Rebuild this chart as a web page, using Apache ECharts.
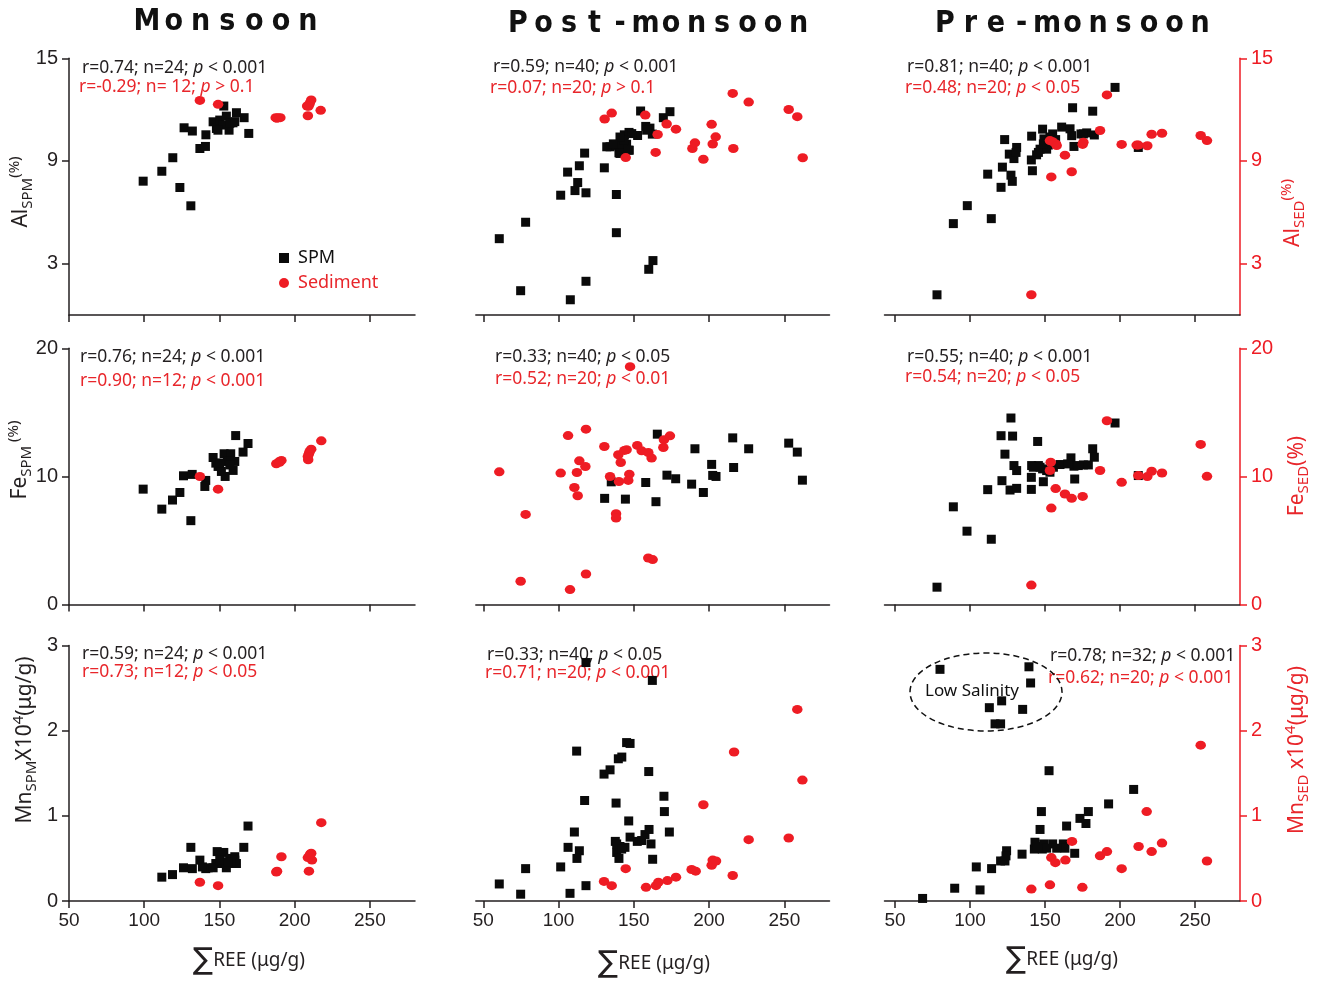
<!DOCTYPE html>
<html><head><meta charset="utf-8">
<script src="https://cdn.jsdelivr.net/npm/echarts@6/dist/echarts.min.js"></script>
<style>html,body{margin:0;padding:0;background:#fff}#c{width:1328px;height:983px}</style>
</head><body><div id="c"></div><script>
// ---------------- DATA ----------------
const seasons = ['Monsoon', 'Post-monsoon', 'Pre-monsoon'];
const xTicks = [50, 100, 150, 200, 250];
const yTicksAl = [3, 9, 15];
const yTicksFe = [0, 10, 20];
const yTicksMn = [0, 1, 2, 3];

// Monsoon
const monAlSPM = [[99.3,7.82],[111.7,8.40],[119.0,9.19],[123.7,7.45],[131.0,6.38],[126.5,10.94],[132.0,10.75],[141.0,10.53],[137.0,9.73],[140.7,9.85],[152.9,12.21],[145.8,11.29],[148.0,10.90],[150.2,11.39],[154.6,11.62],[156.4,10.80],[159.0,11.23],[161.3,11.82],[166.4,11.53],[169.5,10.61],[152.4,11.10],[156.9,11.20],[149.0,10.80],[160.2,11.30]];
const monAlSED = [[137.0,12.54],[149.1,12.31],[187.4,11.53],[189.0,11.53],[190.5,11.53],[208.8,11.64],[208.3,12.21],[211.0,12.56],[217.3,11.96],[210.0,12.36],[188.2,11.50],[209.2,12.20]];
const monFeSPM = [[99.3,9.01],[111.7,7.45],[118.8,8.16],[123.7,8.75],[131.0,6.55],[126.1,10.05],[131.9,10.16],[140.9,9.69],[140.3,9.22],[145.8,11.48],[147.6,11.04],[149.1,10.78],[153.1,11.77],[157.5,11.77],[155.3,11.17],[160.2,11.17],[159.1,10.47],[160.8,13.19],[169.0,12.57],[165.7,11.90],[153.8,10.00],[151.3,10.39],[150.2,11.04],[156.9,10.90]];
const monFeSED = [[137.0,10.00],[149.1,9.01],[187.8,10.99],[191.2,11.25],[189.6,11.14],[209.0,11.30],[209.5,11.77],[211.0,12.13],[217.7,12.78],[210.0,11.95],[208.8,11.56],[190.0,11.10]];
const monMnSPM = [[111.7,0.28],[118.8,0.31],[126.1,0.39],[131.0,0.63],[132.0,0.38],[137.0,0.48],[140.9,0.38],[142.5,0.39],[147.6,0.44],[148.5,0.58],[152.9,0.57],[151.3,0.44],[154.6,0.39],[156.9,0.50],[160.2,0.52],[161.3,0.44],[160.2,0.48],[166.2,0.63],[169.0,0.88],[145.8,0.39],[150.2,0.48],[158.0,0.44],[138.7,0.40],[155.8,0.46]];
const monMnSED = [[137.0,0.22],[149.1,0.18],[188.3,0.35],[191.2,0.52],[209.5,0.35],[209.5,0.52],[211.0,0.56],[211.5,0.48],[217.7,0.92],[187.8,0.34],[208.8,0.51],[210.3,0.55]];

// Post-monsoon
const postAlSPM = [[60.6,4.46],[74.8,1.42],[78.1,5.42],[101.4,7.00],[106.0,8.35],[112.7,7.74],[110.9,7.27],[118.2,7.14],[113.8,8.72],[117.3,9.46],[107.8,0.89],[118.2,1.97],[130.4,8.60],[138.4,7.04],[138.4,4.81],[134.2,9.83],[137.9,9.91],[140.1,9.48],[143.7,10.53],[146.8,10.67],[145.2,9.98],[147.0,9.63],[152.5,10.49],[154.5,11.92],[157.9,11.02],[160.7,10.92],[162.3,10.57],[169.6,11.53],[174.0,11.88],[159.9,2.67],[162.7,3.18],[142.6,9.73],[140.8,9.44],[143.5,10.20],[132.0,9.83],[148.6,10.60],[158.5,10.80],[140.8,10.40],[136.4,10.00],[146.3,9.63]];
const postAlSED = [[130.6,11.45],[135.3,11.80],[157.6,11.68],[165.8,10.55],[164.5,9.50],[144.6,9.20],[171.8,11.16],[178.0,10.86],[188.9,9.73],[190.6,10.06],[196.2,9.10],[201.7,11.14],[204.4,10.41],[202.4,9.99],[216.1,9.73],[215.7,12.95],[226.3,12.44],[252.9,12.01],[258.6,11.59],[262.2,9.19]];
const postFeSPM = [[165.6,13.30],[190.6,12.16],[215.7,13.01],[226.3,12.16],[252.9,12.60],[258.6,11.90],[262.0,9.71],[201.7,10.94],[202.4,10.08],[204.6,10.00],[216.3,10.70],[188.4,9.40],[196.2,8.75],[172.0,10.10],[177.8,9.82],[157.9,9.53],[164.7,8.03],[144.4,8.23],[130.6,8.29],[135.0,9.58]];
const postFeSED = [[60.6,10.36],[78.1,7.04],[74.8,1.82],[107.6,1.17],[118.2,2.39],[106.3,13.19],[118.2,13.69],[101.4,10.26],[112.2,10.31],[113.8,11.22],[117.8,10.78],[110.5,9.14],[112.7,8.49],[130.4,12.34],[134.2,10.00],[138.2,7.09],[138.2,6.75],[139.7,11.69],[141.3,11.09],[143.7,12.03],[145.2,12.08],[140.1,9.61],[147.0,10.18],[146.3,9.69],[152.3,12.42],[155.2,12.00],[159.6,11.87],[161.8,11.43],[170.0,12.86],[174.0,13.17],[169.6,12.26],[159.6,3.64],[162.5,3.51],[147.5,18.57]];
const postMnSPM = [[60.6,0.20],[74.8,0.08],[78.1,0.38],[101.4,0.40],[107.6,0.09],[118.2,0.18],[106.3,0.63],[110.5,0.81],[113.8,0.59],[112.2,0.50],[117.3,1.18],[112.0,1.76],[118.2,2.80],[130.2,1.49],[134.2,1.54],[139.7,1.67],[142.0,1.69],[145.2,1.86],[147.5,1.85],[138.2,1.15],[137.7,0.70],[138.6,0.57],[140.1,0.50],[140.8,0.64],[144.1,0.63],[146.6,0.94],[147.5,0.75],[152.3,0.70],[155.2,0.71],[157.4,0.78],[160.1,0.84],[161.4,0.67],[162.5,0.49],[159.9,1.52],[162.3,2.59],[170.0,1.23],[170.3,1.05],[173.6,0.81],[138.6,0.67],[141.9,0.61]];
const postMnSED = [[130.2,0.23],[135.3,0.18],[144.6,0.38],[158.1,0.16],[164.7,0.18],[166.3,0.22],[172.3,0.24],[178.0,0.28],[188.4,0.37],[191.1,0.35],[196.2,1.13],[201.7,0.42],[202.4,0.48],[204.6,0.47],[215.7,0.30],[216.6,1.75],[226.3,0.72],[252.9,0.74],[258.6,2.25],[262.0,1.42]];

// Pre-monsoon
const preAlSPM = [[78.0,1.18],[88.9,5.34],[98.2,6.39],[114.2,5.63],[111.8,8.23],[120.7,7.46],[121.6,8.64],[127.3,8.17],[128.2,7.81],[123.1,10.25],[126.2,9.40],[129.3,9.14],[131.1,9.79],[130.7,9.50],[140.9,9.06],[141.6,8.43],[141.1,10.45],[144.4,9.36],[146.7,9.69],[148.4,10.86],[149.3,10.29],[152.2,9.93],[155.1,10.58],[157.1,10.25],[161.1,10.98],[166.7,10.88],[168.4,12.11],[169.3,9.85],[174.0,10.58],[177.8,10.64],[181.8,11.91],[182.9,10.52],[196.7,13.30],[212.2,9.79],[153.3,10.40],[151.1,9.69],[145.6,9.50],[167.8,10.48],[175.6,10.58],[148.9,10.00]];
const preAlSED = [[140.9,1.18],[154.2,8.07],[167.8,8.37],[163.3,9.34],[153.3,10.19],[157.3,9.99],[175.1,9.97],[186.7,10.78],[191.3,12.86],[201.1,9.97],[212.2,9.93],[218.2,9.89],[221.1,10.56],[228.0,10.62],[253.8,10.49],[258.0,10.19],[155.1,10.13],[157.8,9.90],[175.6,10.10],[211.1,9.93]];
const preFeSPM = [[78.0,1.36],[88.9,7.63],[98.0,5.73],[114.2,5.10],[111.8,8.97],[121.3,9.67],[120.7,13.18],[127.3,14.56],[128.4,13.15],[123.3,11.74],[129.3,10.85],[131.1,10.46],[126.7,8.94],[131.1,9.07],[140.9,8.99],[140.9,9.93],[141.1,10.85],[145.1,12.73],[145.6,10.85],[148.9,9.59],[148.4,10.59],[153.3,10.33],[155.6,10.72],[160.0,10.93],[167.3,11.45],[169.3,10.80],[169.8,9.80],[175.6,10.90],[178.9,10.90],[181.8,12.16],[182.9,11.50],[196.7,14.17],[212.2,10.07],[151.1,10.46],[165.1,10.98],[146.7,10.72],[172.2,10.85],[142.2,10.72]];
const preFeSED = [[140.9,1.52],[153.8,11.11],[154.2,7.53],[157.1,9.05],[163.3,8.63],[167.8,8.29],[175.1,8.44],[186.7,10.46],[191.3,14.35],[201.1,9.54],[212.2,10.07],[218.2,9.99],[221.1,10.41],[228.0,10.27],[253.8,12.50],[258.0,10.01],[153.3,10.46]];
const preMnSPM = [[68.4,0.03],[89.8,0.15],[106.7,0.13],[104.2,0.40],[114.4,0.38],[120.4,0.47],[123.3,0.47],[124.4,0.59],[124.0,0.53],[134.7,0.55],[142.9,0.61],[143.3,0.69],[146.7,0.84],[147.6,1.05],[149.1,0.67],[148.2,0.61],[152.7,1.53],[155.1,0.67],[162.2,0.67],[164.4,0.88],[169.8,0.56],[173.3,0.97],[177.3,0.91],[178.9,1.05],[192.4,1.14],[209.1,1.31],[163.3,0.62],[157.8,0.62],[144.4,0.64],[151.1,0.62],[80.0,2.72],[139.3,2.75],[140.4,2.56],[121.1,2.35],[112.9,2.27],[135.1,2.25],[116.7,2.08],[120.4,2.08]];
const preMnSED = [[140.9,0.14],[153.3,0.19],[174.9,0.16],[154.2,0.51],[156.9,0.45],[163.6,0.48],[168.0,0.70],[186.7,0.53],[191.3,0.58],[201.1,0.38],[212.4,0.64],[217.8,1.05],[221.1,0.58],[228.0,0.68],[253.8,1.83],[258.0,0.47]];

// statistics text [pre, post] per panel (row-major)
const statsSPM = [
  ['r=0.74; n=24; ',' < 0.001'],['r=0.59; n=40; ',' < 0.001'],['r=0.81; n=40; ',' < 0.001'],
  ['r=0.76; n=24; ',' < 0.001'],['r=0.33; n=40; ',' < 0.05'],['r=0.55; n=40; ',' < 0.001'],
  ['r=0.59; n=24; ',' < 0.001'],['r=0.33; n=40; ',' < 0.05'],['r=0.78; n=32; ',' < 0.001']];
const statsSED = [
  ['r=-0.29; n= 12; ',' > 0.1'],['r=0.07; n=20; ',' > 0.1'],['r=0.48; n=20; ',' < 0.05'],
  ['r=0.90; n=12; ',' < 0.001'],['r=0.52; n=20; ',' < 0.01'],['r=0.54; n=20; ',' < 0.05'],
  ['r=0.73; n=12; ',' < 0.05'],['r=0.71; n=20; ',' < 0.001'],['r=0.62; n=20; ',' < 0.001']];

// ---------------- LAYOUT ----------------
const BLACK = '#231f20', RED = '#ee1c24', REDT = '#e8262b';
const SPM = [[monAlSPM,postAlSPM,preAlSPM],[monFeSPM,postFeSPM,preFeSPM],[monMnSPM,postMnSPM,preMnSPM]];
const SED = [[monAlSED,postAlSED,preAlSED],[monFeSED,postFeSED,preFeSED],[monMnSED,postMnSED,preMnSED]];
const colCfg = [{left:69,width:346,min:50,max:280},{left:475.8,width:353.7,min:45,max:280},{left:884.5,width:355.5,min:43,max:280}];
const rowCfg = [{top:58.3,height:256.7,max:15,ticks:yTicksAl},{top:348.3,height:256.3,max:20,ticks:yTicksFe},{top:645.5,height:255.5,max:3,ticks:yTicksMn}];

const grids=[], xAxes=[], yAxes=[], series=[];
for (let r=0;r<3;r++) for (let c=0;c<3;c++) {
  const i=r*3+c, cc=colCfg[c], rc=rowCfg[r];
  grids.push({left:cc.left, top:rc.top, width:cc.width, height:rc.height, containLabel:false, outerBoundsMode:'none'});
  xAxes.push({gridIndex:i, type:'value', min:cc.min, max:cc.max,
    axisLine:{onZero:false, lineStyle:{color:BLACK, width:1.5}},
    axisTick:{show:true, inside:false, length:7, customValues:xTicks, lineStyle:{color:BLACK, width:1.5}},
    axisLabel:{show:r===2, customValues:xTicks, margin:10, fontSize:19, color:BLACK, fontFamily:'Liberation Sans'},
    splitLine:{show:false}});
  const col = c===2 ? RED : BLACK;
  yAxes.push({gridIndex:i, type:'value', min:0, max:rc.max, show:c!==1, position:c===2?'right':'left',
    axisLine:{show:true, onZero:false, lineStyle:{color:col, width:1.5}},
    axisTick:{show:true, inside:false, length:7, customValues:rc.ticks, lineStyle:{color:col, width:1.5}},
    axisLabel:{show:true, customValues:rc.ticks, margin:11, fontSize:20, color:col, fontFamily:'Liberation Sans'},
    splitLine:{show:false}});
  series.push({name:'SPM', type:'scatter', xAxisIndex:i, yAxisIndex:i, data:SPM[r][c], symbol:'rect', symbolSize:9, itemStyle:{color:'#0a0a0a', opacity:1}, silent:true, z:2});
  series.push({name:'Sediment', type:'scatter', xAxisIndex:i, yAxisIndex:i, data:SED[r][c], symbol:'circle', symbolSize:[10.5,9], itemStyle:{color:RED, opacity:1}, silent:true, z:3});
}

// ---------------- TEXT ----------------
const graphics = [];
const FONT = "'Noto Sans', 'Open Sans', sans-serif";
function txt(x,y,style,extra){ return Object.assign({type:'text', x, y, silent:true, style:Object.assign({align:'left', verticalAlign:'middle', textAlign:'left', textVerticalAlign:'middle'}, style)}, extra||{}); }

// Titles, letter-spaced
const titleCfg = [{x0:147,pitch:26.8,y:22},{x0:518,pitch:25.5,y:24},{x0:945,pitch:25.5,y:24}];
seasons.forEach((s,k)=>{
  s.split('').forEach((ch,j)=>{
    graphics.push(txt(titleCfg[k].x0+j*titleCfg[k].pitch, titleCfg[k].y, {text:ch, fontSize:30, fontWeight:'bold',
      fontFamily:"'Liberation Sans Narrow','DejaVu Sans Condensed','Liberation Sans',sans-serif", fill:'#111', align:'center', textAlign:'center'}));
  });
});

// statistics
const statPos = [[82,68,79,87],[493,67,490,88],[907,67,905,88],[80,357,80,381],[495,357,495,379],[907,357,905,377],[82,654,82,672],[487,655,485,673],[1050,656,1048,678]];
function statRich(col){ return {a:{fontSize:17.5, fontFamily:FONT, fill:col}, i:{fontSize:17.5, fontFamily:FONT, fontStyle:'italic', fill:col}}; }
statPos.forEach((p,k)=>{
  graphics.push(txt(p[0],p[1],{text:'{a|'+statsSPM[k][0]+'}{i|p}{a|'+statsSPM[k][1]+'}', rich:statRich(BLACK), fontSize:17.5}));
  graphics.push(txt(p[2],p[3],{text:'{a|'+statsSED[k][0]+'}{i|p}{a|'+statsSED[k][1]+'}', rich:statRich(REDT), fontSize:17.5}));
});

// axis names (rotated)
function yRich(col){ return {
  m:{fontSize:21, fontFamily:FONT, fill:col, lineHeight:28, verticalAlign:'middle'},
  s:{fontSize:15, fontFamily:FONT, fill:col, lineHeight:15, verticalAlign:'bottom'},
  u:{fontSize:15, fontFamily:FONT, fill:col, lineHeight:15, verticalAlign:'top'}}; }
const yNames = [
  [21,192,'{m|Al}{s|SPM}{u|(%)}',BLACK],
  [20,460,'{m|Fe}{s|SPM}{u| (%)}',BLACK],
  [25,740,'{m|Mn}{s|SPM}{m|X10}{u|4}{m|(μg/g)}',BLACK],
  [1293,213,'{m|Al}{s|SED}{u|(%)}',REDT],
  [1297,476,'{m|Fe}{s|SED}{m|(%)}',REDT],
  [1297,750,'{m|Mn}{s|SED}{m| x10}{u|4}{m|(μg/g)}',REDT]];
yNames.forEach(n=>graphics.push(txt(n[0],n[1],{text:n[2], rich:yRich(n[3]), align:'center', textAlign:'center'},{rotation:Math.PI/2})));

const xNamePos = [[249,961],[654,964],[1062,960]];
xNamePos.forEach(p=>graphics.push(txt(p[0],p[1],{text:'{s|∑}{t|REE (μg/g)}', align:'center', textAlign:'center',
  rich:{s:{fontSize:30, fontFamily:"'DejaVu Sans',sans-serif", fill:BLACK}, t:{fontSize:19, fontFamily:FONT, fill:BLACK}}})));

// Low salinity annotation
graphics.push({type:'ellipse', silent:true, shape:{cx:986, cy:692, rx:76, ry:39}, style:{fill:null, stroke:'#111', lineWidth:1.5, lineDash:[6,4]}});
graphics.push(txt(972,691,{text:'Low Salinity', fontSize:17, fontFamily:FONT, fill:'#111', align:'center', textAlign:'center'}));

const chart = echarts.init(document.getElementById('c'));
chart.setOption({
  animation:false,
  backgroundColor:'#fff',
  grid:grids, xAxis:xAxes, yAxis:yAxes, series,
  legend:{data:[{name:'SPM', icon:'rect', textStyle:{color:'#111'}},{name:'Sediment', icon:'circle', textStyle:{color:REDT}}],
    orient:'vertical', left:274, top:244, itemWidth:10, itemHeight:10, itemGap:7, selectedMode:false,
    itemStyle:{opacity:1},
    textStyle:{fontSize:18, fontFamily:FONT, lineHeight:18, padding:[0,0,0,4]}},
  graphic:graphics
});
</script></body></html>
